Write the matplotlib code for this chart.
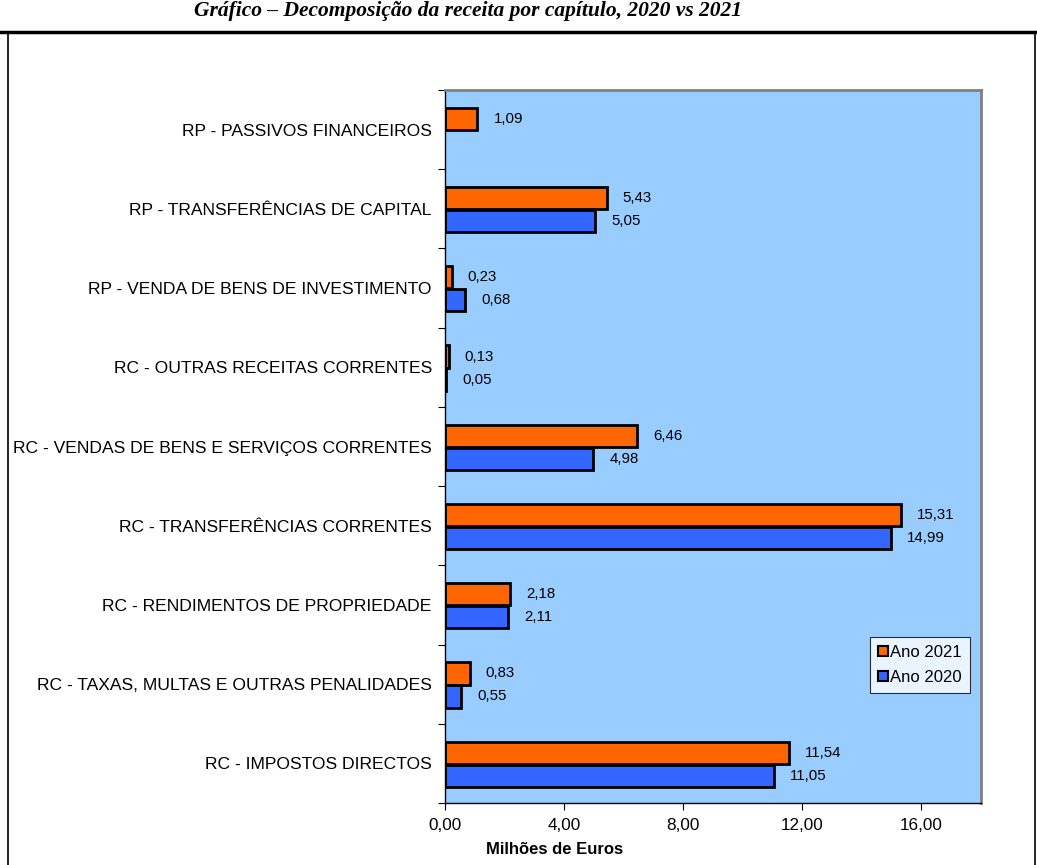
import matplotlib.pyplot as plt
import matplotlib as mpl
from matplotlib.patches import Rectangle
from matplotlib.lines import Line2D
import numpy as np

categories = ['RC - IMPOSTOS DIRECTOS',
              'RC - TAXAS, MULTAS E OUTRAS PENALIDADES',
              'RC - RENDIMENTOS DE PROPRIEDADE',
              'RC - TRANSFERÊNCIAS CORRENTES',
              'RC - VENDAS DE BENS E SERVIÇOS CORRENTES',
              'RC - OUTRAS RECEITAS CORRENTES',
              'RP - VENDA DE BENS DE INVESTIMENTO',
              'RP - TRANSFERÊNCIAS DE CAPITAL',
              'RP - PASSIVOS FINANCEIROS']
ano_2021 = [11.54, 0.83, 2.18, 15.31, 6.46, 0.13, 0.23, 5.43, 1.09]
ano_2020 = [11.05, 0.55, 2.11, 14.99, 4.98, 0.05, 0.68, 5.05, None]
xticks = [0, 4, 8, 12, 16]

ORANGE = '#FF6600'
BLUE = '#3366FF'
BG = '#99CCFF'


def fmt(v):
    return f'{v:.2f}'.replace('.', ',')


def main():
    mpl.rcParams['font.family'] = ['Liberation Sans', 'DejaVu Sans']
    W, H = 1037, 865
    fig = plt.figure(figsize=(W / 100, H / 100), dpi=100)
    ax = fig.add_axes([445 / W, 1 - 803 / H, (981 - 445) / W, (803 - 90) / H])
    ax.set_facecolor(BG)

    y = np.arange(len(categories))
    h = 0.28
    for i, v in enumerate(ano_2021):
        ax.barh(y[i] + 0.135, v, height=h, color=ORANGE, edgecolor='black', linewidth=2)
        ax.annotate(fmt(v), (v, y[i] + 0.135), xytext=(11.5, 0),
                    textcoords='offset points', va='center', ha='left', fontsize=10.8)
    for i, v in enumerate(ano_2020):
        if v is None:
            continue
        ax.barh(y[i] - 0.155, v, height=h, color=BLUE, edgecolor='black', linewidth=2)
        ax.annotate(fmt(v), (v, y[i] - 0.155), xytext=(11.5, 0),
                    textcoords='offset points', va='center', ha='left', fontsize=10.8)

    ax.set_xlim(0, 18)
    ax.set_ylim(-0.5, len(categories) - 0.5)
    ax.set_xticks(xticks)
    ax.set_xticklabels([fmt(t) for t in xticks], fontsize=12.3)
    ax.set_yticks(np.arange(-0.5, len(categories)), minor=False)
    ax.set_yticklabels([])
    ax.set_yticks(y, minor=True)
    ax.set_yticklabels(categories, minor=True, fontsize=12.6)
    ax.tick_params(axis='y', which='minor', length=0, pad=9.5)
    ax.tick_params(axis='y', which='major', length=5, direction='out', color='black')
    ax.tick_params(axis='x', length=5, direction='out', color='black', pad=6)
    ax.set_xlabel('Milhões de Euros', fontsize=12, fontweight='bold', labelpad=3)
    ax.xaxis.set_label_coords(0.205, -0.055)

    for s in ['top', 'right']:
        ax.spines[s].set_color('#808080')
        ax.spines[s].set_linewidth(2)
    for s in ['left', 'bottom']:
        ax.spines[s].set_color('black')
        ax.spines[s].set_linewidth(1)

    handles = [Line2D([], [], marker='s', linestyle='none', markerfacecolor=c,
                      markeredgecolor='black', markeredgewidth=1.5, markersize=7.5)
               for c in (ORANGE, BLUE)]
    leg = ax.legend(handles, ['Ano 2021', 'Ano 2020'], loc='lower right',
                    bbox_to_anchor=(0.979, 0.154), fontsize=12, frameon=True,
                    fancybox=False, edgecolor='black', handlelength=0.6,
                    handletextpad=0.1, borderpad=0.5, labelspacing=0.6,
                    borderaxespad=0)
    leg.get_frame().set_linewidth(0.8)

    # outer frame of the exported chart
    fig.patches.append(Rectangle((8 / W, -0.01), (W - 10) / W, 1 - 33 / H + 0.01,
                                 transform=fig.transFigure, fill=False,
                                 edgecolor='black', linewidth=1.2))
    fig.add_artist(Line2D([0, 1], [1 - 32 / H, 1 - 32 / H], transform=fig.transFigure,
                          color='black', linewidth=2.5))
    fig.text(468 / W, 1 - 16 / H, 'Gráfico – Decomposição da receita por capítulo, 2020 vs 2021',
             ha='center', va='baseline', fontsize=15.5, fontweight='bold', fontstyle='italic',
             family=['Liberation Serif', 'DejaVu Serif'])

    fig.savefig('out.png', dpi=100)


if __name__ == '__main__':
    main()
